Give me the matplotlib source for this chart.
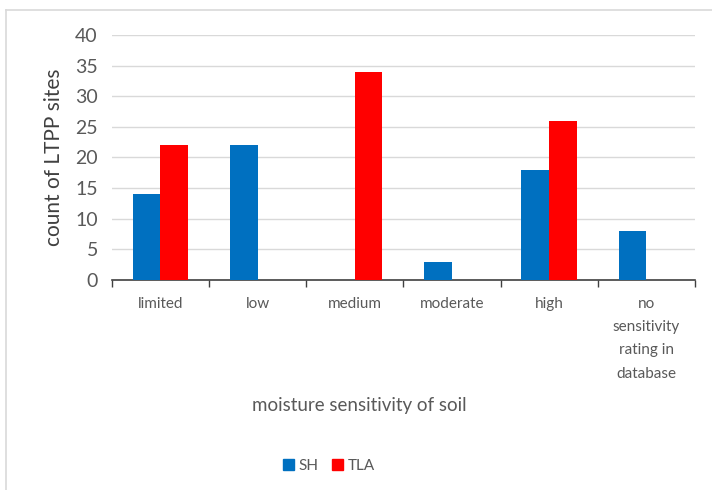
import numpy as np
import matplotlib as mpl
mpl.use("agg")
import matplotlib.pyplot as plt
from matplotlib.lines import Line2D
from matplotlib.patches import Patch

plt.rcParams["font.family"] = ["Lato", "DejaVu Sans"]

categories = ["limited", "low", "medium", "moderate", "high",
              "no\nsensitivity\nrating in\ndatabase"]
sh_counts = [14, 22, 0, 3, 18, 8]
tla_counts = [22, 0, 34, 0, 26, 0]

BLUE = "#0070C0"
RED = "#FF0000"
TEXT = "#595959"

fig = plt.figure(figsize=(7.12, 4.9), dpi=100)
ax = fig.add_axes([0.157, 0.4286, 0.819, 0.50])

x = np.arange(len(categories))
w = 0.285
ax.bar(x - w / 2, sh_counts, w, color=BLUE, label="SH", zorder=3)
ax.bar(x + w / 2, tla_counts, w, color=RED, label="TLA", zorder=3)

ax.set_xlim(-0.5, len(categories) - 0.5)
ax.set_ylim(0, 40)
ax.set_yticks(range(0, 41, 5))
ax.yaxis.grid(True, color="#D9D9D9", linewidth=1.0, zorder=0)

ax.set_xticks(x)
ax.set_xticklabels(categories, fontsize=11, color=TEXT, linespacing=1.85,
                   va="top")
ax.tick_params(axis="x", length=0, pad=12)
ax.set_xticks(np.arange(-0.5, len(categories)), minor=True)
ax.tick_params(axis="x", which="minor", length=5, color="#404040", width=1)
ax.tick_params(axis="y", length=0, labelsize=14, labelcolor=TEXT, pad=10)

for side in ("top", "right", "left"):
    ax.spines[side].set_visible(False)
ax.spines["bottom"].set_color("#404040")
ax.spines["bottom"].set_linewidth(1.2)

ax.set_ylabel("count of LTPP sites", fontsize=15, color="#404040", labelpad=8)
fig.text(0.505, 1 - 405 / 490, "moisture sensitivity of soil", fontsize=13.5,
         color=TEXT, ha="center", va="center")

handles = [Patch(color=BLUE, label="SH"), Patch(color=RED, label="TLA")]
fig.legend(handles=handles, loc="center", bbox_to_anchor=(0.462, 1 - 466 / 490),
           ncol=2, frameon=False, fontsize=11, handlelength=0.7,
           handleheight=0.7, handletextpad=0.3, columnspacing=0.9,
           labelcolor=TEXT)

# chart frame
fig.add_artist(Line2D([0.009, 1.0], [0.979, 0.979], color="#D9D9D9",
                      linewidth=1.2, transform=fig.transFigure))
fig.add_artist(Line2D([0.009, 0.009], [0.0, 0.979], color="#D9D9D9",
                      linewidth=1.2, transform=fig.transFigure))

fig.savefig("out.png", dpi=100)
